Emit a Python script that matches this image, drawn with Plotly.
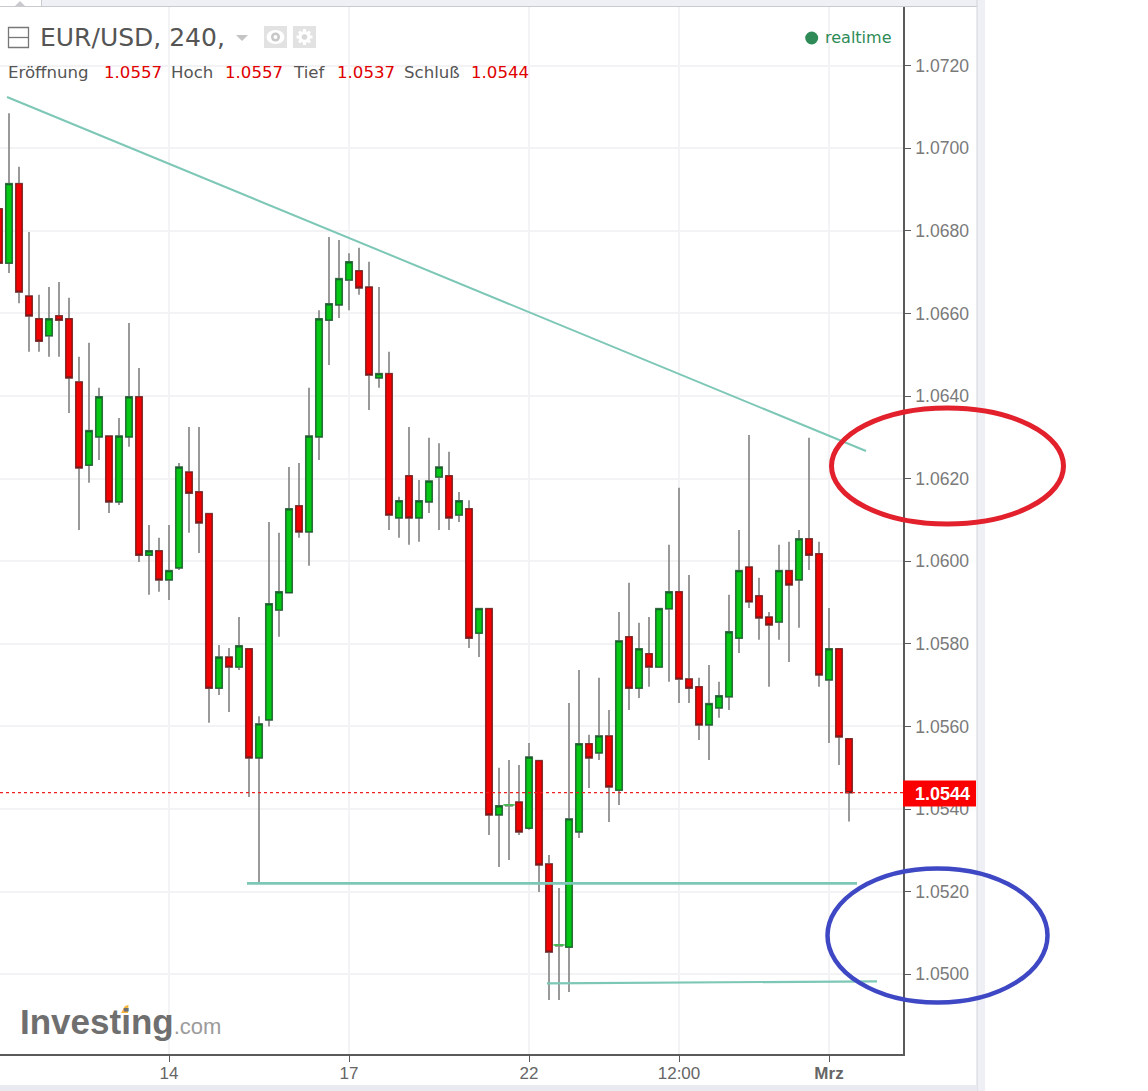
import plotly.graph_objects as go

# ---- data -----------------------------------------------------------------
bar_index = list(range(-1, 85))
opens = [1.06853,1.06722,1.06914,1.06642,1.06587,1.06546,1.06594,1.06587,1.06434,1.06233,1.06301,1.06303,1.06144,1.06301,1.06398,1.06015,1.06025,1.05955,1.05984,1.06216,1.06168,1.06115,1.05693,1.05768,1.05744,1.05788,1.05524,1.05616,1.05882,1.05924,1.06134,1.06071,1.06301,1.06584,1.06621,1.06681,1.06703,1.06664,1.06444,1.06454,1.06105,1.06207,1.06105,1.06144,1.06204,1.06207,1.06112,1.06127,1.05826,1.05885,1.05386,1.05408,1.05417,1.05354,1.05517,1.05267,1.05069,1.05066,1.05345,1.05558,1.05536,1.05577,1.05446,1.05817,1.05693,1.05776,1.05744,1.05885,1.05926,1.05715,1.05696,1.05604,1.05645,1.05672,1.05814,1.05986,1.05916,1.05865,1.05853,1.05977,1.05955,1.06054,1.06018,1.05713,1.05788,1.05570]
highs = [1.06853,1.07085,1.06955,1.06797,1.06645,1.06664,1.06676,1.06638,1.06495,1.06529,1.06420,1.06303,1.06347,1.06577,1.06468,1.06088,1.06057,1.06088,1.06238,1.06325,1.06325,1.06115,1.05797,1.05790,1.05865,1.05788,1.05625,1.06095,1.06069,1.06228,1.06238,1.06420,1.06608,1.06785,1.06778,1.06746,1.06759,1.06725,1.06664,1.06507,1.06156,1.06325,1.06197,1.06299,1.06286,1.06265,1.06168,1.06148,1.05885,1.05885,1.05500,1.05519,1.05507,1.05560,1.05517,1.05289,1.05209,1.05657,1.05737,1.05580,1.05718,1.05640,1.05877,1.05948,1.05851,1.05865,1.05885,1.06040,1.06178,1.05967,1.05718,1.05749,1.05708,1.05919,1.06076,1.06306,1.05960,1.05877,1.06040,1.06047,1.06076,1.06299,1.06047,1.05887,1.05788,1.05570]
lows = [1.06722,1.06698,1.06625,1.06507,1.06507,1.06495,1.06495,1.06359,1.06076,1.06190,1.06245,1.06117,1.06136,1.06277,1.05998,1.05919,1.05926,1.05906,1.05979,1.06069,1.06020,1.05609,1.05676,1.05635,1.05737,1.05429,1.05219,1.05600,1.05817,1.05924,1.06057,1.05989,1.06245,1.06475,1.06589,1.06608,1.06645,1.06366,1.06420,1.06076,1.06057,1.06040,1.06047,1.06117,1.06076,1.06076,1.06095,1.05790,1.05768,1.05337,1.05260,1.05277,1.05337,1.05350,1.05199,1.04938,1.04938,1.04957,1.05330,1.05451,1.05519,1.05369,1.05410,1.05640,1.05669,1.05696,1.05744,1.05708,1.05657,1.05657,1.05567,1.05519,1.05621,1.05640,1.05778,1.05887,1.05810,1.05696,1.05810,1.05756,1.05839,1.05979,1.05696,1.05560,1.05507,1.05370]
closes = [1.06722,1.06914,1.06652,1.06594,1.06533,1.06587,1.06584,1.06444,1.06226,1.06316,1.06398,1.06144,1.06303,1.06398,1.06015,1.06025,1.05955,1.05977,1.06228,1.06165,1.06093,1.05693,1.05768,1.05744,1.05795,1.05524,1.05606,1.05897,1.05926,1.06127,1.06071,1.06303,1.06587,1.06623,1.06684,1.06725,1.06662,1.06451,1.06454,1.06112,1.06146,1.06105,1.06146,1.06194,1.06228,1.06105,1.06146,1.05814,1.05885,1.05386,1.05408,1.05410,1.05345,1.05526,1.05265,1.05054,1.05071,1.05376,1.05558,1.05524,1.05577,1.05454,1.05807,1.05693,1.05788,1.05744,1.05885,1.05926,1.05715,1.05693,1.05604,1.05655,1.05674,1.05829,1.05977,1.05902,1.05863,1.05846,1.05977,1.05943,1.06054,1.06015,1.05725,1.05788,1.05575,1.05440]

price_ticks = [1.05, 1.052, 1.054, 1.056, 1.058, 1.06, 1.062, 1.064, 1.066, 1.068, 1.07, 1.072]
price_labels = ["1.0500", "1.0520", "1.0540", "1.0560", "1.0580", "1.0600", "1.0620", "1.0640", "1.0660", "1.0680", "1.0700", "1.0720"]
time_ticks = [16, 34, 52, 67, 82]
time_labels = ["14", "17", "22", "12:00", "<b>Mrz</b>"]

last_price = 1.0544
trend_x, trend_y = [-0.2, 85.7], [1.07124, 1.06267]
support1_x, support1_y = [23.8, 84.8], [1.05220, 1.05220]
support2_x, support2_y = [53.8, 86.8], [1.04978, 1.04983]
DOJI_LIMIT = 0.00003

header_labels = [("Eröffnung", 6, "#555555"), ("1.0557", 102, "#e00000"), ("Hoch", 169, "#555555"), ("1.0557", 223, "#e00000"),
                 ("Tief", 291, "#555555"), ("1.0537", 335, "#e00000"), ("Schluß", 402, "#555555"), ("1.0544", 469, "#e00000")]

# ---- page geometry --------------------------------------------------------
W, H = 1148, 1091
L, R, T, B = 0, 903, 7, 1054
def px(x): return (x - L) / (R - L)
def py(y): return 1 - (y - T) / (B - T)

TEAL = "#7cc7b6"
GREEN, RED = "#05c815", "#f50000"
FONT = "Liberation Sans"
HEAD = "DejaVu Sans"

fig = go.Figure()

# drawn trend and support lines sit behind the candles
fig.add_trace(go.Scatter(x=trend_x, y=trend_y, mode="lines", line=dict(color=TEAL, width=2), hoverinfo="skip", showlegend=False))
fig.add_trace(go.Scatter(x=support1_x, y=support1_y, mode="lines", line=dict(color=TEAL, width=2.8), hoverinfo="skip", showlegend=False))
fig.add_trace(go.Scatter(x=support2_x, y=support2_y, mode="lines", line=dict(color=TEAL, width=2.2), hoverinfo="skip", showlegend=False))

# wicks
fig.add_trace(go.Candlestick(
    x=bar_index, open=opens, high=highs, low=lows, close=closes,
    increasing=dict(line=dict(color="#8f8f8f", width=1.8), fillcolor="#8f8f8f"),
    decreasing=dict(line=dict(color="#8f8f8f", width=1.8), fillcolor="#8f8f8f"),
    whiskerwidth=0, hoverinfo="skip", showlegend=False))
# bodies
is_doji = [abs(o - c) < DOJI_LIMIT for o, c in zip(opens, closes)]
fig.add_trace(go.Candlestick(
    x=bar_index,
    open=[None if d else o for o, d in zip(opens, is_doji)],
    close=[None if d else c for c, d in zip(closes, is_doji)],
    high=[None if d else max(o, c) for o, c, d in zip(opens, closes, is_doji)],
    low=[None if d else min(o, c) for o, c, d in zip(opens, closes, is_doji)],
    increasing=dict(line=dict(color="#17602c", width=1.2), fillcolor=GREEN),
    decreasing=dict(line=dict(color="#7a1a1a", width=1.2), fillcolor=RED),
    whiskerwidth=0, hoverinfo="skip", showlegend=False))
# bars with almost no body show only a short light tick
fig.add_trace(go.Scatter(
    x=[i for i, d in zip(bar_index, is_doji) if d],
    y=[c for c, d in zip(closes, is_doji) if d],
    mode="markers", marker=dict(symbol="line-ew", size=8, line=dict(color="#3cbf4a", width=1.6)),
    hoverinfo="skip", showlegend=False))

# current price line
fig.add_trace(go.Scatter(x=[-0.9, 89.4], y=[last_price, last_price], mode="lines",
                         line=dict(color="#f02020", width=1.2, dash="dot"), hoverinfo="skip", showlegend=False))

def rect(x0, y0, x1, y1, fill, line=None, width=0, layer="above"):
    return dict(type="rect", xref="paper", yref="paper", x0=px(x0), x1=px(x1), y0=py(y0), y1=py(y1),
                fillcolor=fill, line=dict(color=line or fill, width=width), layer=layer)

def ellipse(cx, cy, rx, ry, color, width):
    return dict(type="circle", xref="paper", yref="paper", x0=px(cx - rx), x1=px(cx + rx), y0=py(cy + ry), y1=py(cy - ry),
                line=dict(color=color, width=width), layer="above")

def disc(cx, cy, rx, ry, color):
    return dict(type="circle", xref="paper", yref="paper", x0=px(cx - rx), x1=px(cx + rx), y0=py(cy + ry), y1=py(cy - ry),
                fillcolor=color, line=dict(width=0), layer="above")

def seg(x0, y0, x1, y1, color, width=1):
    return dict(type="line", xref="paper", yref="paper", x0=px(x0), x1=px(x1), y0=py(y0), y1=py(y1),
                line=dict(color=color, width=width), layer="above")

def tri(points, color):
    d = "M " + " L ".join(f"{px(a)} {py(b)}" for a, b in points) + " Z"
    return dict(type="path", xref="paper", yref="paper", path=d, fillcolor=color, line=dict(color=color, width=0), layer="above")

shapes = [
    # surrounding page chrome
    rect(0, 0, 977, 6, "#eff0f5"), seg(0, 6.5, 977, 6.5, "#c9cace", 1),
    rect(0, 0, 41, 6, "#ffffff"), seg(41.5, 0, 41.5, 6, "#c9cace", 1), tri([(15, 6), (20, 1), (25, 6)], "#c9cace"),
    rect(977, 0, 985, H, "#eff0f5"), seg(977, 0, 977, H, "#d3d4da", 1),
    rect(0, 1085, 977, H, "#e9eaf0"),
    # last price flag
    rect(903, 780.5, 976, 806.5, "#fb0000"),
    # hand-drawn ellipses
    ellipse(947.5, 466, 116, 58, "#e2212d", 5),
    ellipse(937.5, 935.5, 110, 67, "#3f48c4", 4.5),
    # header icons
    rect(8.5, 27.5, 28.5, 47.5, "#ffffff", "#777777", 1.3), seg(9, 37.5, 28, 37.5, "#777777", 1.3),
    tri([(236, 35), (248, 35), (242, 41)], "#c4c4c4"),
    rect(264, 26, 287, 48, "#e2e2e2"), rect(293, 26, 316, 48, "#e2e2e2"),
    disc(275.5, 37, 9, 7, "#ffffff"), disc(275.5, 37, 4.5, 4.5, "#c8c8c8"), disc(275.5, 37, 2, 2, "#ffffff"),
    seg(304.5, 29, 304.5, 45, "#ffffff", 3), seg(296.5, 37, 312.5, 37, "#ffffff", 3),
    seg(299, 31.5, 310, 42.5, "#ffffff", 3), seg(299, 42.5, 310, 31.5, "#ffffff", 3),
    disc(304.5, 37, 6, 6, "#ffffff"), disc(304.5, 37, 2.8, 2.8, "#d8d8d8"),
    disc(811.7, 38, 6.5, 6.5, "#2e8b57"),
    # logo accent
    tri([(121, 1013), (125, 1006), (128.5, 1005), (128, 1013)], "#f6b73c"),
]

annotations = [
    dict(text="EUR/USD, 240,", x=px(38), y=py(38), xref="paper", yref="paper", xanchor="left", yanchor="middle", showarrow=False,
         font=dict(family=HEAD, size=25, color="#555555")),
    dict(text="realtime", x=px(823), y=py(38), xref="paper", yref="paper", xanchor="left", yanchor="middle", showarrow=False,
         font=dict(family=HEAD, size=16, color="#2e8b57")),
    dict(text="<b>1.0544</b>", x=px(942.5), y=py(793.5), xref="paper", yref="paper", xanchor="center", yanchor="middle", showarrow=False,
         font=dict(family=FONT, size=18, color="#ffffff")),
    dict(text="<b>Investing</b><span style='font-size:22px;color:#9b9b9b'>.com</span>", x=px(18), y=py(1021), xref="paper", yref="paper",
         xanchor="left", yanchor="middle", showarrow=False, font=dict(family=FONT, size=35, color="#6f6f6f")),
]
for label, x, color in header_labels:
    annotations.append(dict(text=label, x=px(x), y=py(73), xref="paper", yref="paper", xanchor="left", yanchor="middle", showarrow=False,
                            font=dict(family=HEAD, size=16.6, color=color)))

fig.update_layout(
    width=W, height=H, autosize=False,
    margin=dict(l=L, r=W - R, t=T, b=H - B, pad=0),
    paper_bgcolor="#ffffff", plot_bgcolor="#ffffff",
    boxgap=0.1, showlegend=False,
    shapes=shapes, annotations=annotations,
    xaxis=dict(range=[-0.9, 89.4], rangeslider=dict(visible=False), tickmode="array", tickvals=time_ticks, ticktext=time_labels,
               showgrid=True, gridcolor="#f3f3f6", gridwidth=1.5, zeroline=False,
               showline=True, linecolor="#5a5a5a", linewidth=1.5, ticks="outside", ticklen=6, tickcolor="#5a5a5a", tickwidth=1.2,
               ticklabelstandoff=-3, tickfont=dict(family=FONT, size=17, color="#666666")),
    yaxis=dict(range=[1.04807, 1.07342], side="right", tickmode="array", tickvals=price_ticks, ticktext=price_labels,
               showgrid=True, gridcolor="#f3f3f6", gridwidth=1.5, zeroline=False,
               showline=True, linecolor="#5a5a5a", linewidth=1.5, ticks="outside", ticklen=6, tickcolor="#5a5a5a", tickwidth=1.2,
               ticklabelstandoff=1, tickfont=dict(family=FONT, size=17.6, color="#7a7a7a")),
)

fig.write_html("out.html", config=dict(displayModeBar=False),
               post_script="document.body.style.margin='0';document.documentElement.style.overflow='hidden';")
